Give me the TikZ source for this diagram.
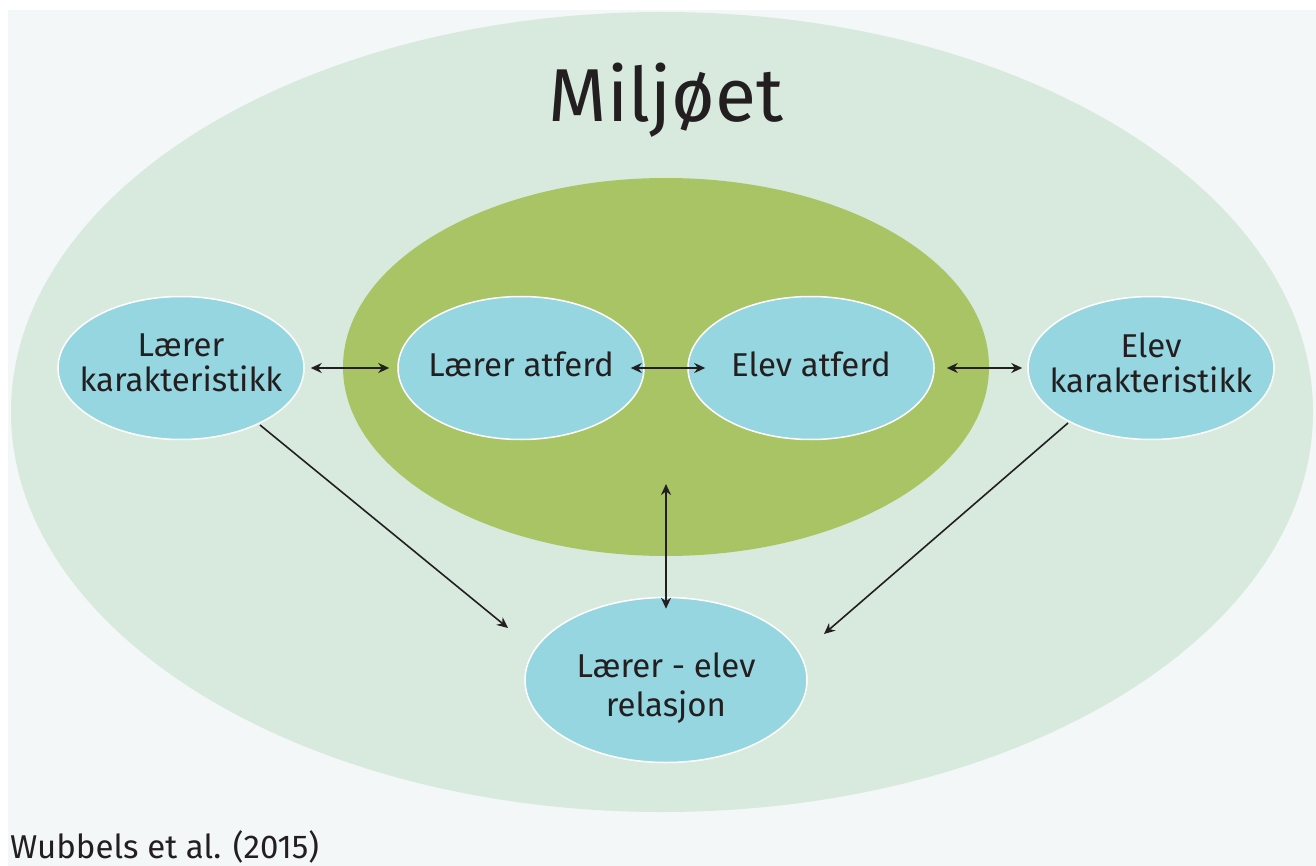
\documentclass[tikz,border=0pt]{standalone}
\usepackage{fontspec}
\setmainfont{Fira Sans}
\usetikzlibrary{arrows.meta,shapes.geometric}
\definecolor{bgc}{HTML}{F3F7F8}
\definecolor{outerc}{HTML}{D8EADE}
\definecolor{greenc}{HTML}{A8C464}
\definecolor{bluec}{HTML}{96D6E0}
\definecolor{txtc}{HTML}{231F20}
\tikzset{
  blob/.style={ellipse, draw=white, line width=1.5pt, fill=bluec, inner sep=0pt},
  lbl/.style={text=txtc, font=\fontsize{33}{35}\selectfont, align=center},
  dbl/.style={{Stealth[length=11pt,width=10pt]}-{Stealth[length=11pt,width=10pt]}, line width=1.8pt, draw=txtc},
  one/.style={-{Stealth[length=11pt,width=10pt]}, line width=1.6pt, draw=txtc}
}
\begin{document}
\begin{tikzpicture}[x=1pt,y=-1pt]
\useasboundingbox (0,0) rectangle (1316,866);
\fill[white] (0,0) rectangle (1316,866);
\fill[bgc] (8,10) rectangle (1316,866);
\fill[outerc] (662,412) ellipse [x radius=651, y radius=400];
\fill[greenc] (666,367) ellipse [x radius=323, y radius=189];
\node[text=txtc, font=\fontsize{75}{80}\selectfont] (title) at (666,100) {Miljøet};
\node[blob, minimum width=246pt, minimum height=143pt] (lk) at (181,368) {};
\node[blob, minimum width=246pt, minimum height=143pt] (la) at (521,368) {};
\node[blob, minimum width=246pt, minimum height=143pt] (ea) at (811,368) {};
\node[blob, minimum width=246pt, minimum height=143pt] (ek) at (1151,368) {};
\node[blob, minimum width=282pt, minimum height=165pt] (rel) at (666,680) {};
\node[lbl, yshift=5pt] at (lk) {Lærer\\karakteristikk};
\node[lbl, yshift=4pt] at (la) {Lærer atferd};
\node[lbl, yshift=4pt] at (ea) {Elev atferd};
\node[lbl, yshift=5pt] at (ek) {Elev\\karakteristikk};
\node[lbl, font=\fontsize{33}{39}\selectfont, yshift=-8pt] at (rel) {Lærer - elev\\relasjon};
\node[text=txtc, font=\fontsize{33}{35}\selectfont, anchor=base west, inner sep=0pt] (src) at (10,858) {Wubbels et al. (2015)};
\coordinate (g) at (666,484);
\coordinate (d1s) at (260,425);
\coordinate (d1e) at (508,628);
\coordinate (d2s) at (1068,423);
\coordinate (d2e) at (824,634);
\draw[dbl] ([xshift=6pt]lk.east) -- ([xshift=-8pt]la.west);
\draw[dbl] ([xshift=-14pt]la.east) -- ([xshift=18pt]ea.west);
\draw[dbl] ([xshift=12pt]ea.east) -- ([xshift=-5pt]ek.west);
\draw[dbl] (g) -- ([yshift=-12pt]rel.north);
\draw[one] (d1s) -- (d1e);
\draw[one] (d2s) -- (d2e);
\end{tikzpicture}
\end{document}
